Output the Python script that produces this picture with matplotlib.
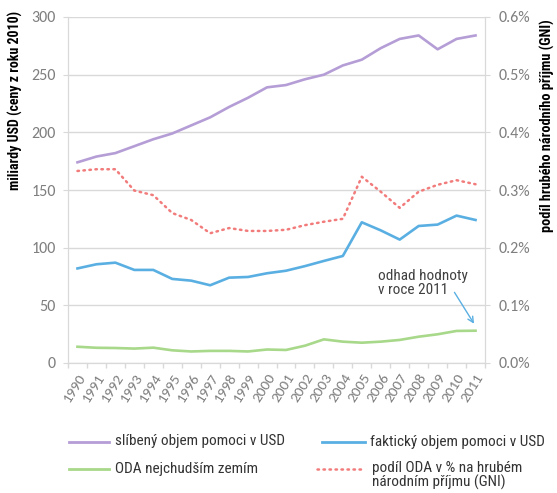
import matplotlib
matplotlib.use("Agg")
import matplotlib.pyplot as plt
from matplotlib import font_manager
from matplotlib.lines import Line2D

years = list(range(1990, 2012))
year_labels = [str(y) for y in years]
promised = [174, 179, 182, 188, 194, 199, 206, 213, 222, 230, 239, 241, 246, 250, 258, 263, 273, 281, 284, 272, 281, 284]
actual = [82, 85.6, 87, 80.7, 80.7, 72.9, 71.4, 67.4, 74, 74.6, 77.8, 80, 84, 88.5, 92.8, 122, 115, 107, 118.8, 120, 127.8, 124]
ldc = [14.1, 13.2, 13, 12.5, 13.3, 11, 10, 10.5, 10.5, 10, 11.7, 11.3, 15, 20.5, 18.5, 17.6, 18.5, 20, 22.8, 24.9, 27.8, 28]
gni_share = [0.333, 0.336, 0.336, 0.299, 0.291, 0.26, 0.248, 0.225, 0.234, 0.229, 0.229, 0.231, 0.239, 0.245, 0.25, 0.323, 0.297, 0.269, 0.297, 0.309, 0.317, 0.31]

left_ticks = [0, 50, 100, 150, 200, 250, 300]
right_ticks = [0.0, 0.1, 0.2, 0.3, 0.4, 0.5, 0.6]
right_tick_labels = ["0.0%", "0.1%", "0.2%", "0.3%", "0.4%", "0.5%", "0.6%"]

series_labels = ["slíbený objem pomoci v USD", "faktický objem pomoci v USD",
                 "ODA nejchudším zemím", "podíl ODA v % na hrubém\nnárodním příjmu (GNI)"]

names = {f.name for f in font_manager.fontManager.ttflist}


def pick(cands, default):
    for c in cands:
        if c in names:
            return c
    return default


narrow = pick(["Roboto Condensed", "Archivo Narrow", "PT Sans Narrow", "Liberation Sans Narrow",
               "Fira Sans Condensed", "IBM Plex Sans Condensed", "Encode Sans Condensed",
               "Open Sans Condensed", "Asap Condensed"], "Liberation Sans")
tickfont = pick(["Carlito", "Open Sans"], "DejaVu Sans")

c_purple = "#b59dd6"
c_blue = "#5aafe2"
c_green = "#a8d88a"
c_red = "#f27c7c"
grid_c = "#d9d9d9"
tick_c = "#7f7f7f"
red_ls = (0, (0.6, 1.8))

W, H = 557, 493
fig = plt.figure(figsize=(W / 100, H / 100), dpi=100)
ax = fig.add_axes([68/W, 1-363/H, (485-68)/W, (363-17)/H])
ax2 = ax.twinx()

x = list(range(len(years)))
ax.plot(x, promised, color=c_purple, lw=1.9, zorder=3)
ax.plot(x, actual, color=c_blue, lw=1.9, zorder=3)
ax.plot(x, ldc, color=c_green, lw=1.9, zorder=3)
ax2.plot(x, gni_share, color=c_red, lw=1.8, linestyle=red_ls, dash_capstyle="round", zorder=3)

ax.set_xlim(-0.5, len(years) - 0.5)
ax.set_ylim(0, 300)
ax2.set_ylim(0, 0.6)
ax.set_yticks(left_ticks)
ax.set_yticklabels([str(t) for t in left_ticks])
ax2.set_yticks(right_ticks)
ax2.set_yticklabels(right_tick_labels)

ax.set_xticks(x)
ax.set_xticklabels(year_labels, rotation=58, ha="right", va="top", rotation_mode="anchor")
ax.set_xticks([i - 0.5 for i in range(len(years) + 1)], minor=True)
ax.tick_params(axis="x", which="major", length=0, pad=6, labelsize=11, labelcolor=tick_c)
ax.tick_params(axis="x", which="minor", length=3.6, color=grid_c, width=1)
for lab in ax.get_xticklabels():
    lab.set_fontfamily(tickfont)

ax.tick_params(axis="y", length=3.6, color=grid_c, labelsize=11.5, labelcolor=tick_c, pad=5)
ax2.tick_params(axis="y", length=3.6, color=grid_c, labelsize=11.5, labelcolor=tick_c, pad=6)
for lab in ax.get_yticklabels() + ax2.get_yticklabels():
    lab.set_fontfamily(tickfont)

ax.grid(axis="y", color=grid_c, lw=1)
ax.set_axisbelow(True)
for a in (ax, ax2):
    a.spines["top"].set_visible(False)
    a.spines["left"].set_color(grid_c)
    a.spines["right"].set_color(grid_c)
    a.spines["bottom"].set_color(grid_c)

fig.text(15/W, 1-100/H, "miliardy USD (ceny z roku 2010)", rotation=90, ha="center", va="center",
         fontsize=10, fontweight="bold", family=narrow)
fig.text(547/W, 1-126/H, "podíl hrubého národního příjmu (GNI)", rotation=90, ha="center", va="center",
         fontsize=10.3, fontweight="bold", family=narrow)

fig.text(378/W, 1-283/H, "odhad hodnoty\nv roce 2011", ha="left", va="center",
         fontsize=11, family=narrow, color="#404040", linespacing=1.05)
ax.annotate("", xy=(21, ldc[-1] + 4), xytext=(453, 1-290/H), textcoords=("figure pixels", "figure fraction"),
            arrowprops=dict(arrowstyle="->", color=c_blue, lw=1))

# legend drawn manually (figure pixel positions)
leg_items = [
    (69, 109, 441.5, 115, c_purple, "-", series_labels[0]),
    (322, 365, 442, 370, c_blue, "-", series_labels[1]),
    (69, 109, 468.5, 115, c_green, "-", series_labels[2]),
    (317, 362, 469, 372, c_red, red_ls, series_labels[3]),
]
for x0, x1, yy, tx, col, ls, lab in leg_items:
    fig.add_artist(Line2D([x0/W, x1/W], [1-yy/H, 1-yy/H], transform=fig.transFigure,
                          color=col, lw=2 if ls == "-" else 1.8, linestyle=ls, dash_capstyle="round"))
    if "\n" in lab:
        fig.text(tx/W, 1-(yy-8)/H, lab, ha="left", va="top", fontsize=11, family=narrow,
                 color="#333333", linespacing=0.95)
    else:
        fig.text(tx/W, 1-yy/H, lab, ha="left", va="center", fontsize=11, family=narrow, color="#333333")

fig.savefig("out.png", dpi=100)
